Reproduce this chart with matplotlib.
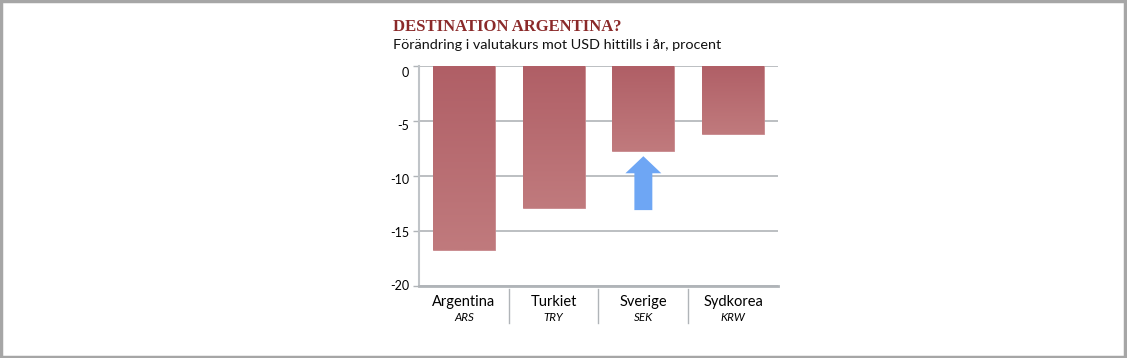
import numpy as np
import matplotlib
matplotlib.use('Agg')
import matplotlib.pyplot as plt
import matplotlib.transforms as mtransforms
from matplotlib.colors import LinearSegmentedColormap
from matplotlib.patches import Rectangle, FancyArrow

countries = ['Argentina', 'Turkiet', 'Sverige', 'Sydkorea']
codes = ['ARS', 'TRY', 'SEK', 'KRW']
change = [-16.7, -12.9, -7.7, -6.2]
yticks = [0, -5, -10, -15, -20]
title = 'DESTINATION ARGENTINA?'
subtitle = 'Förändring i valutakurs mot USD hittills i år, procent'

plt.rcParams['font.family'] = ['Lato', 'DejaVu Sans']

fig = plt.figure(figsize=(11.27, 3.58), dpi=100)
ax = fig.add_axes([0.3718, 0.2011, 0.3185, 0.6145])

x = np.arange(len(countries))
bars = ax.bar(x, change, width=0.69, color='#b86a70', edgecolor='#c98a8e', linewidth=0.6, zorder=2)

# gradient fill, darker at the top
cmap = LinearSegmentedColormap.from_list('bar', ['#b05f66', '#c07a7d'])
grad = np.linspace(0, 1, 100).reshape(-1, 1)
for b in bars:
    x0 = b.get_x()
    ax.imshow(grad, cmap=cmap, aspect='auto', zorder=2.5,
              extent=(x0, x0 + b.get_width(), b.get_y() + b.get_height(), b.get_y()),
              origin='upper')

# arrow pointing at Sverige
ax.add_patch(FancyArrow(2, -13.1, 0, 4.9, width=0.2, head_width=0.4,
                        head_length=1.55, length_includes_head=True,
                        color='#6ea6f4', lw=0, zorder=4))

ax.set_xlim(-0.5, len(countries) - 0.5)
ax.set_ylim(-20, 0)
ax.set_yticks(yticks)
ax.set_yticklabels([str(t) for t in yticks], fontsize=9)
ax.set_xticks([])
ax.tick_params(axis='y', length=4, width=1, color='#b0b4b8', pad=3)
# in the original the labels are spaced a bit tighter than the gridlines
for i, lab in enumerate(ax.get_yticklabels()):
    off = mtransforms.ScaledTranslation(0, -(6 - 1.75 * i) / 100, fig.dpi_scale_trans)
    lab.set_transform(lab.get_transform() + off)
ax.yaxis.grid(True, color='#b0b4b8', lw=1.2, zorder=1)
ax.set_axisbelow(True)

for s in ['top', 'right']:
    ax.spines[s].set_visible(False)
ax.spines['left'].set_color('#c0c4c8')
ax.spines['left'].set_linewidth(1.5)
ax.spines['bottom'].set_color('#b0b4b8')
ax.spines['bottom'].set_linewidth(2)

# category labels and separators
for i, (c, code) in enumerate(zip(countries, codes)):
    ax.text(i, -21.45, c, ha='center', va='center', fontsize=10.5, clip_on=False)
    ax.text(i, -22.9, code, ha='center', va='center', fontsize=8.3,
            style='italic', clip_on=False)
for i in range(1, len(countries)):
    ax.plot([i - 0.5, i - 0.5], [-20.3, -23.4], color='#b0b4b8', lw=1, clip_on=False)

fig.text(0.3487, 0.913, title, fontsize=12, color='#8b2a2a',
         family='Liberation Serif', weight='bold', va='baseline')
fig.text(0.3487, 0.862, subtitle, fontsize=10.4, color='#111111', va='baseline')

fig.add_artist(Rectangle((0.001, 0.002), 0.997, 0.994, transform=fig.transFigure,
                         fill=False, edgecolor='#a6a6a6', lw=2.5))

fig.savefig('out.png', dpi=100)
